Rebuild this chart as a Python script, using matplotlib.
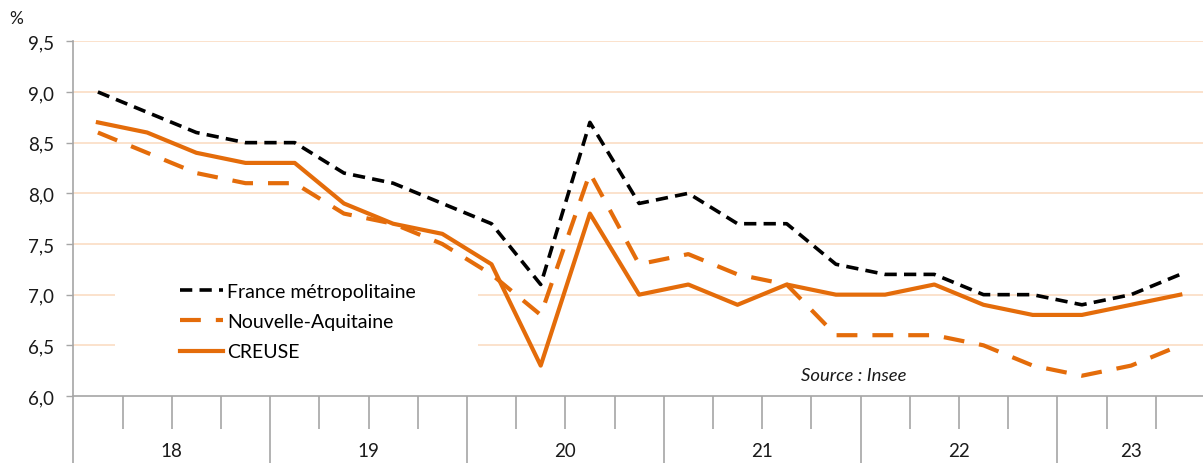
import matplotlib
matplotlib.use("Agg")
import matplotlib.pyplot as plt
from matplotlib.ticker import FixedLocator, FuncFormatter
from matplotlib.patches import Rectangle
import matplotlib.transforms as mtransforms

plt.rcParams['font.family'] = ['Lato', 'DejaVu Sans']

years = ["18", "19", "20", "21", "22", "23"]
quarters_per_year = [4, 4, 4, 4, 4, 3]
quarters = [f"T{q+1} 20{y}" for y, n in zip(years, quarters_per_year) for q in range(n)]

france = [9.0, 8.8, 8.6, 8.5, 8.5, 8.2, 8.1, 7.9, 7.7, 7.1, 8.7, 7.9, 8.0, 7.7, 7.7,
          7.3, 7.2, 7.2, 7.0, 7.0, 6.9, 7.0, 7.2]
nouvelle_aquitaine = [8.6, 8.4, 8.2, 8.1, 8.1, 7.8, 7.7, 7.5, 7.2, 6.8, 8.2, 7.3, 7.4, 7.2, 7.1,
                      6.6, 6.6, 6.6, 6.5, 6.3, 6.2, 6.3, 6.5]
creuse = [8.7, 8.6, 8.4, 8.3, 8.3, 7.9, 7.7, 7.6, 7.3, 6.3, 7.8, 7.0, 7.1, 6.9, 7.1,
          7.0, 7.0, 7.1, 6.9, 6.8, 6.8, 6.9, 7.0]
y_ticks = [6.0, 6.5, 7.0, 7.5, 8.0, 8.5, 9.0, 9.5]

W, H = 1203, 464
fig = plt.figure(figsize=(W / 100, H / 100), dpi=100)
qw = 49.2
left_px, top_px, bottom_px = 73.3, 42.3, 397.0
ax_w_px = len(quarters) * qw
ax_h_px = bottom_px - top_px
ax = fig.add_axes([left_px / W, (H - bottom_px) / H, ax_w_px / W, ax_h_px / H])

orange = "#E46C0A"
grid_c = "#FBDDC4"
axis_c = "#A6A6A6"
text_c = "#1a1a1a"

x = list(range(len(quarters)))
ax.set_xlim(-0.5, len(quarters) - 0.5)
ax.set_ylim(y_ticks[0], y_ticks[-1])

for v in y_ticks[1:]:
    ax.axhline(v, color=grid_c, lw=1.2, zorder=1)

# legend white box hiding grid
ax.add_patch(Rectangle(((115 - left_px) / ax_w_px, 0.04), (478 - 115) / ax_w_px, 0.38,
                       transform=ax.transAxes, facecolor="white", edgecolor="none", zorder=2))

l1, = ax.plot(x, france, color="black", lw=2.6, dashes=(3.4, 2.0), zorder=4,
              label="France métropolitaine")
l2, = ax.plot(x, nouvelle_aquitaine, color=orange, lw=3.0, dashes=(5.0, 3.6), zorder=3,
              label="Nouvelle-Aquitaine")
l3, = ax.plot(x, creuse, color=orange, lw=3.0, zorder=5, label="CREUSE")

leg = ax.legend(handles=[l1, l2, l3], loc="upper left",
                bbox_to_anchor=((180 - left_px) / ax_w_px, (bottom_px - 284) / ax_h_px),
                frameon=False, fontsize=14, handlelength=2.2, handletextpad=0.22,
                labelspacing=0.68, borderpad=0, borderaxespad=0)
leg.set_zorder(6)

# y axis
ax.yaxis.set_major_locator(FixedLocator(y_ticks))
ax.yaxis.set_major_formatter(FuncFormatter(lambda v, p: f"{v:.1f}".replace(".", ",")))
ax.tick_params(axis="y", direction="out", length=4.8, width=1, color=axis_c,
               labelsize=13.5, pad=9, labelcolor=text_c)
for s in ["top", "right"]:
    ax.spines[s].set_visible(False)
for s in ["left", "bottom"]:
    ax.spines[s].set_color(axis_c)
    ax.spines[s].set_linewidth(1.2)

# x axis: quarter ticks and year boundaries
year_bounds = []
pos = -0.5
for n in quarters_per_year:
    year_bounds.append(pos)
    pos += n
quarter_bounds = [i + 0.5 for i in range(len(quarters) - 1) if (i + 0.5) not in year_bounds]
ax.set_xticks(year_bounds)
ax.set_xticks(quarter_bounds, minor=True)
ax.set_xticklabels([])
ax.tick_params(axis="x", which="major", direction="out", length=67 * 0.72, width=1.2, color=axis_c)
ax.tick_params(axis="x", which="minor", direction="out", length=33 * 0.72, width=1.2, color=axis_c)

trans = mtransforms.blended_transform_factory(ax.transData, fig.transFigure)
pos = -0.5
for y, n in zip(years, quarters_per_year):
    ax.text(pos + n / 2, (H - 452) / H, y, transform=trans, ha="center", va="center",
            fontsize=13.5, color=text_c)
    pos += n

fig.text(16 / W, 1 - 19 / H, "%", ha="center", va="center", fontsize=12.5, color=text_c)
fig.text(801 / W, 1 - 376 / H, "Source : Insee", ha="left", va="center", fontsize=13.3,
         style="italic", color=text_c)

fig.savefig("out.png", dpi=100)
